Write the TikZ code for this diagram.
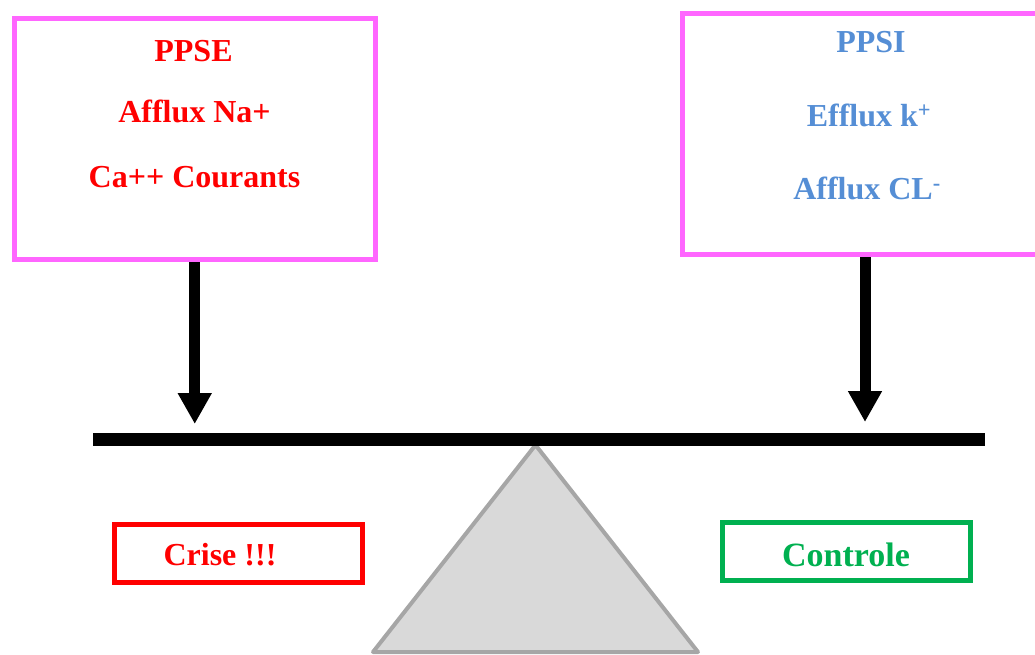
\documentclass[tikz,border=0pt]{standalone}
\usepackage{fontspec}
\setmainfont{Liberation Serif}
\usetikzlibrary{arrows.meta}
\definecolor{boxpink}{HTML}{FF66FF}
\definecolor{ppsiblue}{HTML}{558ED5}
\definecolor{ctrlgreen}{HTML}{00B050}
\definecolor{pivotfill}{HTML}{D9D9D9}
\definecolor{pivotedge}{HTML}{A6A6A6}

\begin{document}
\begin{tikzpicture}[x=1pt,y=-1pt,
  txt/.style={font=\fontsize{32}{38}\selectfont\bfseries,anchor=base,inner sep=0pt},
  bigbox/.style={draw=boxpink,line width=5pt,minimum width=#1,minimum height=241pt,inner sep=0pt},
  smallbox/.style={draw=#1,line width=5pt,minimum width=248pt,minimum height=58pt,inner sep=0pt},
  push/.style={line width=11pt,-{Triangle[width=32pt,length=31pt]}}]
  \useasboundingbox (0,0) rectangle (1035,655);
  % pivot, then beam on top
  \draw[pivotedge,fill=pivotfill,line width=4pt,line join=round] (535.5,445) -- (698,652) -- (373,652) -- cycle;
  \coordinate (beamL) at (93,439.5);
  \coordinate (beamR) at (985,439.5);
  \draw[line width=13pt] (beamL) -- (beamR);
  % upper boxes
  \node[bigbox=360.5pt] (ppse) at (194.75,139.25) {};
  \node[bigbox=366pt] (ppsi) at (865,134) {};
  \node[txt,red] (ppse-name) at (193.5,62) {PPSE};
  \node[txt,red] (ppse-na) at (194.5,123) {Afflux Na+};
  \node[txt,red] (ppse-ca) at (194.5,188) {Ca++ Courants};
  \node[txt,ppsiblue] (ppsi-name) at (871,52.7) {PPSI};
  \node[txt,ppsiblue] (ppsi-k) at (869,126.7) {Efflux k\textsuperscript{+}};
  \node[txt,ppsiblue] (ppsi-cl) at (867,200) {Afflux CL\textsuperscript{-}};
  % arrows down onto the beam
  \coordinate (tipL) at (194.75,424);
  \coordinate (tipR) at (865,422);
  \draw[push] (ppse.south) -- (tipL);
  \draw[push] (ppsi.south) -- (tipR);
  % lower boxes
  \node[smallbox=red] (crise) at (238,553.75) {};
  \node[smallbox=ctrlgreen] (ctrl) at (846.25,551.75) {};
  \node[txt,red] (crise-txt) at (220,565.7) {Crise !!!};
  \node[txt,ctrlgreen,font=\fontsize{34}{40}\selectfont\bfseries] (ctrl-txt) at (846,566) {Controle};
\end{tikzpicture}
\end{document}
